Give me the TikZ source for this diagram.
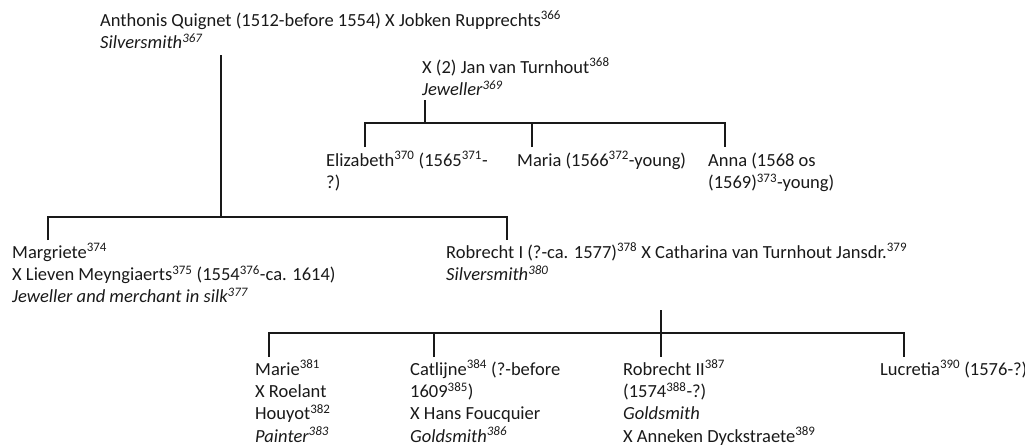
\documentclass[tikz,border=0pt]{standalone}
\usepackage{fontspec}
\setmainfont{Carlito}
\newcommand\fn[1]{\textsuperscript{#1}}
\newcommand\lines[1]{\begin{tabular}[t]{@{}l@{}}#1\end{tabular}}
\begin{document}
\begin{tikzpicture}[x=1pt,y=-1pt,
  person/.style={anchor=base west, inner sep=0pt, text=black!90,
                 font=\fontsize{18.5}{22.4}\selectfont},
  link/.style={line width=2pt, black!90}]
\useasboundingbox (0,0) rectangle (1025,445);

% generation 1
\node[person] (anthonis) at (100,26) {\lines{Anthonis Quignet (1512-before 1554) X Jobken Rupprechts\fn{366}\\ \textit{Silversmith\fn{367}}}};
\node[person] (jan) at (422,73) {\lines{X (2) Jan van Turnhout\fn{368}\\ \textit{Jeweller\fn{369}}}};

% children of the second marriage
\node[person] (elizabeth) at (326,166) {\lines{Elizabeth\fn{370} (1565\fn{371}-\\ ?)}};
\node[person] (maria) at (517,166) {\lines{Maria (1566\fn{372}-young)}};
\node[person] (anna) at (708,166) {\lines{Anna (1568 os\\ (1569)\fn{373}-young)}};

% generation 2
\node[person] (margriete) at (12,258) {\lines{Margriete\fn{374}\\ X Lieven Meyngiaerts\fn{375} (1554\fn{376}-ca. 1614)\\ \textit{Jeweller and merchant in silk\fn{377}}}};
\node[person] (robrecht) at (446,258) {\lines{Robrecht I (?-ca. 1577)\fn{378} X Catharina van Turnhout Jansdr.\fn{379}\\ \textit{Silversmith\fn{380}}}};

% generation 3
\node[person] (marie) at (255,375) {\lines{Marie\fn{381}\\ X Roelant\\ Houyot\fn{382}\\ \textit{Painter\fn{383}}}};
\node[person] (catlijne) at (410,375) {\lines{Catlijne\fn{384} (?-before\\ 1609\fn{385})\\ X Hans Foucquier\\ \textit{Goldsmith\fn{386}}}};
\node[person] (robrecht2) at (623,375) {\lines{Robrecht II\fn{387}\\ (1574\fn{388}-?)\\ \textit{Goldsmith}\\ X Anneken Dyckstraete\fn{389}}};
\node[person] (lucretia) at (880,375) {\lines{Lucretia\fn{390} (1576-?)}};

% junction points of the brackets
\coordinate (aTop) at (221,55);
\coordinate (aBar) at (221,217);
\coordinate (mDrop) at (48,240);
\coordinate (rDrop) at (507,240);

\coordinate (jTop) at (425,100);
\coordinate (jBar) at (425,123);
\coordinate (eDrop) at (365,147);
\coordinate (maDrop) at (532,147);
\coordinate (anDrop) at (725,147);

\coordinate (rTop) at (661,310);
\coordinate (rBar) at (661,333);
\coordinate (rEnd) at (661,357);
\coordinate (miDrop) at (269,357);
\coordinate (caDrop) at (434,357);
\coordinate (luDrop) at (904,357);

% Anthonis and Jobken
\draw[link] (aTop) -- (aBar);
\draw[link] (mDrop) |- (aBar) -| (rDrop);

% second marriage
\draw[link] (jTop) -- (jBar);
\draw[link] (eDrop) |- (jBar) -| (anDrop);
\draw[link] (maDrop) -- (maDrop |- jBar);

% Robrecht I and Catharina
\draw[link] (rTop) -- (rEnd);
\draw[link] (miDrop) |- (rBar) -| (luDrop);
\draw[link] (caDrop) -- (caDrop |- rBar);
\end{tikzpicture}
\end{document}
